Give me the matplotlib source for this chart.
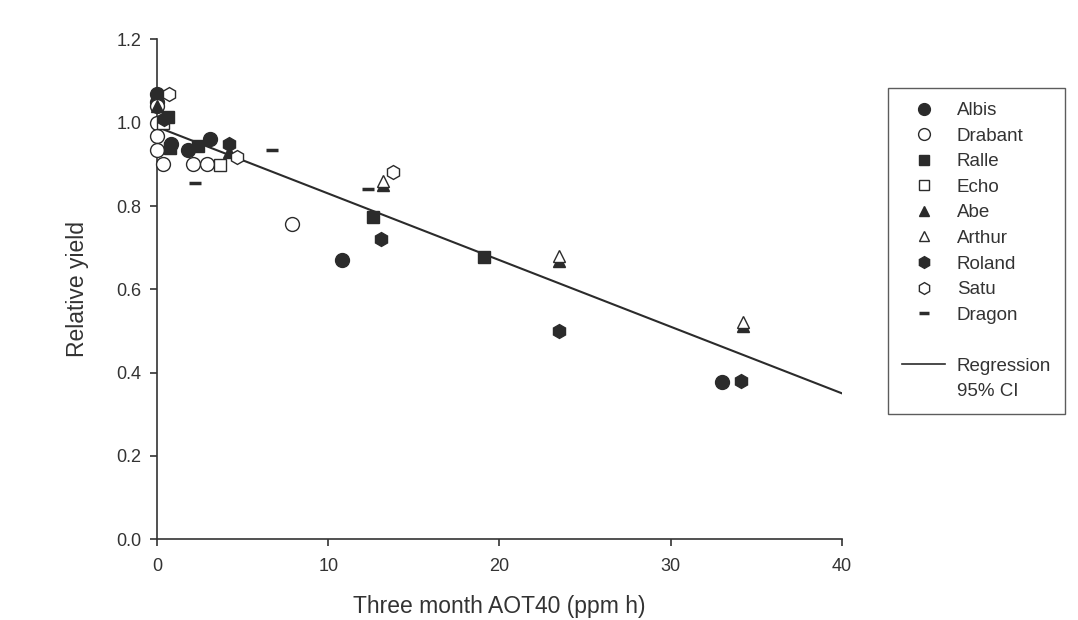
import numpy as np
import matplotlib.pyplot as plt
from matplotlib.lines import Line2D

plt.rcParams['font.family'] = ['Liberation Sans', 'DejaVu Sans']

# cultivar data: three month AOT40 (ppm h) and relative yield
albis_x = [0.0, 0.0, 0.8, 1.8, 3.1, 10.8, 33.0]
albis_y = [1.07, 1.05, 0.95, 0.935, 0.96, 0.67, 0.377]
drabant_x = [0.0, 0.0, 0.0, 0.0, 0.35, 2.1, 2.9, 7.9]
drabant_y = [1.04, 1.0, 0.967, 0.935, 0.90, 0.90, 0.90, 0.756]
ralle_x = [0.65, 0.75, 2.4, 12.6, 19.1]
ralle_y = [1.013, 0.94, 0.945, 0.773, 0.677]
echo_x = [0.35, 3.7]
echo_y = [1.0, 0.898]
abe_x = [0.0, 4.2, 13.2, 23.5, 34.2]
abe_y = [1.04, 0.93, 0.85, 0.668, 0.511]
arthur_x = [13.2, 23.5, 34.2]
arthur_y = [0.859, 0.679, 0.521]
roland_x = [0.4, 4.2, 13.1, 23.5, 34.1]
roland_y = [1.01, 0.948, 0.72, 0.50, 0.379]
satu_x = [0.7, 4.7, 13.8]
satu_y = [1.07, 0.917, 0.881]
dragon_x = [2.2, 6.7, 12.3]
dragon_y = [0.855, 0.934, 0.842]

reg_x = [0, 40]
reg_y = [0.99, 0.35]

names = ["Albis", "Drabant", "Ralle", "Echo", "Abe", "Arthur", "Roland", "Satu", "Dragon"]
xs = [albis_x, drabant_x, ralle_x, echo_x, abe_x, arthur_x, roland_x, satu_x, dragon_x]
ys = [albis_y, drabant_y, ralle_y, echo_y, abe_y, arthur_y, roland_y, satu_y, dragon_y]
markers = ["o", "o", "s", "s", "^", "^", "h", "h", "_"]
filled = [True, False, True, False, True, False, True, False, True]
sizes = [10, 10, 9, 9, 9, 9, 10, 10, 8]

dark = "#2b2b2b"

fig = plt.figure(figsize=(10.78, 6.2), dpi=100)
ax = fig.add_axes([0.1456, 0.1306, 0.6354, 0.8057])

handles = []
for name, x, y, m, f, s in zip(names, xs, ys, markers, filled, sizes):
    fc = dark if f else "white"
    mew = 2.5 if m == "_" else 1.0
    ax.plot(x, y, linestyle="none", marker=m, markersize=s, markerfacecolor=fc,
            markeredgecolor=dark, markeredgewidth=mew, zorder=3, clip_on=False)
    handles.append(Line2D([], [], linestyle="none", marker=m, markersize=s * 0.85,
                          markerfacecolor=fc, markeredgecolor=dark,
                          markeredgewidth=mew, label=name))

ax.plot(reg_x, reg_y, color=dark, linewidth=1.5, zorder=2)

ax.set_xlim(0, 40)
ax.set_ylim(0, 1.2)
ax.set_xticks([0, 10, 20, 30, 40])
ax.set_yticks(np.arange(0, 1.21, 0.2))
ax.set_yticklabels([f"{v:.1f}" for v in np.arange(0, 1.21, 0.2)])
ax.spines["top"].set_visible(False)
ax.spines["right"].set_visible(False)
for sp in ["left", "bottom"]:
    ax.spines[sp].set_color("#333333")
    ax.spines[sp].set_linewidth(1.2)
ax.tick_params(labelsize=13, colors="#333333", length=5, width=1.2)
ax.tick_params(axis="x", pad=9)
ax.tick_params(axis="y", pad=6)
ax.set_xlabel("Three month AOT40 (ppm h)", fontsize=16.5, color="#333333", labelpad=14)
ax.set_ylabel("Relative yield", fontsize=16.5, color="#333333", labelpad=20)

handles.append(Line2D([], [], linestyle="none", label=" "))
handles.append(Line2D([], [], color=dark, linewidth=1.2, label="Regression"))
handles.append(Line2D([], [], linestyle="none", label="95% CI"))

leg = fig.legend(handles=handles, loc="upper left", bbox_to_anchor=(0.824, 0.858),
                 fontsize=13.5, frameon=True, fancybox=False, edgecolor="#333333",
                 handlelength=2.3, handletextpad=0.6, labelspacing=0.45,
                 borderpad=0.75, borderaxespad=0)
leg.get_frame().set_linewidth(1.0)
for t in leg.get_texts():
    t.set_color("#333333")

fig.savefig("out.png", dpi=100)
